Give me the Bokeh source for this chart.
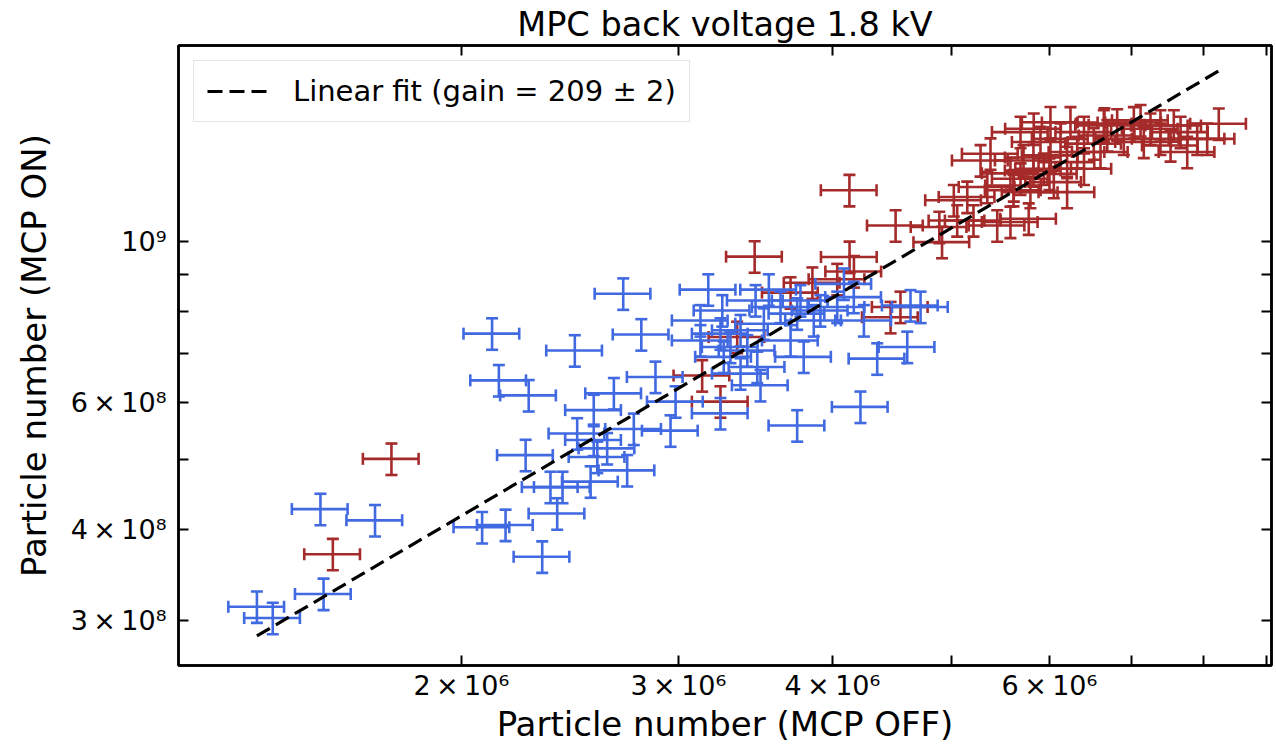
from bokeh.plotting import figure
from bokeh.models import (Range1d, FixedTicker, CustomJSTickFormatter, LogAxis,
                          Whisker, TeeHead, ColumnDataSource)
from bokeh.embed import file_html
from bokeh.resources import INLINE

# ---------------- data (x in units of 1e6, y in units of 1e8) ----------------
blue_x = [1.365, 1.406, 1.546, 1.537, 1.702,
          2.118, 2.706, 2.799, 2.472, 2.145, 2.268, 2.874, 2.659, 2.561, 2.984,
          2.760, 2.956, 2.483, 2.561, 2.626, 2.578, 2.255, 2.726, 2.546, 2.362,
          2.416, 2.392, 2.079, 2.172, 2.326,
          3.172, 3.552, 4.087, 3.256, 3.126, 3.465, 3.630, 3.745, 3.911, 4.036,
          4.163, 4.242, 3.863, 3.519, 3.369, 3.245, 3.126, 3.699, 3.306, 3.412,
          3.791, 3.265, 3.476, 3.369, 3.497, 3.245, 4.349, 4.600, 4.215, 3.745,
          4.628, 4.716, 3.768]
blue_y = [3.13, 3.02, 3.26, 4.27, 4.12,
          7.46, 8.47, 7.44, 7.07, 6.43, 6.13, 6.50, 6.17, 5.85, 6.01,
          5.51, 5.48, 5.43, 5.32, 5.18, 5.04, 5.07, 4.83, 4.66, 4.58,
          4.58, 4.21, 4.03, 4.06, 3.67,
          8.58, 8.58, 8.74, 8.03, 7.78, 8.29, 8.12, 7.95, 8.03, 8.12,
          8.38, 7.78, 7.78, 7.70, 7.54, 7.46, 7.30, 7.30, 7.15, 7.07,
          6.93, 6.93, 6.71, 6.57, 6.33, 5.79, 6.89, 7.15, 5.91, 5.57,
          8.16, 8.12, 8.29]

red_x = [1.573, 1.755, 3.136, 3.245, 3.348, 3.459, 4.130, 4.129, 4.501, 4.909,
         3.853, 4.164, 4.542, 4.459, 3.699, 4.036,
         5.275, 5.146, 5.050, 5.442, 5.772, 5.206, 5.018, 5.342, 5.610, 5.823,
         5.578, 5.823, 5.374,
         8.232, 7.761, 7.665, 8.056, 7.156, 7.382, 7.523, 7.024, 6.809, 6.641, 7.113,
         6.011, 5.826, 6.240, 6.400, 6.125, 5.900, 5.684, 6.518, 6.319, 6.011,
         6.600, 6.201, 6.400, 5.937, 5.684, 6.049, 6.201, 5.790, 5.613, 5.578,
         7.382, 6.894, 6.684, 7.246, 7.907, 7.569, 6.000, 6.649, 5.716, 4.884]
red_y = [3.70, 5.01, 6.53, 6.01, 7.38, 9.53, 9.52, 11.77, 10.52, 9.98,
         8.77, 9.09, 8.12, 7.86, 8.50, 8.87,
         12.94, 11.52, 10.69, 10.52, 10.75, 10.69, 11.40, 11.89, 11.77, 12.53,
         12.42, 13.06, 13.22,
         14.54, 13.29, 14.16, 13.86, 13.72, 13.86, 13.57, 14.60, 14.50, 14.46, 14.70,
         14.61, 14.31, 14.60, 14.16, 13.86, 13.72, 14.16, 13.65, 13.29, 13.15,
         13.29, 12.87, 12.60, 12.60, 12.21, 12.08, 11.70, 11.70, 11.95, 10.64,
         14.46, 13.86, 14.01, 14.31, 13.86, 14.46, 12.40, 14.55, 12.94, 10.47]

x_unit = 1e6
y_unit = 1e8
rel_err_x = 0.052
rel_err_y = 0.050
gain = 209
gain_err = 2

x_tick_vals = [2e6, 3e6, 4e6, 6e6]
x_tick_labels = ["2\u2009\u00d7\u200910\u2076", "3\u2009\u00d7\u200910\u2076",
                 "4\u2009\u00d7\u200910\u2076", "6\u2009\u00d7\u200910\u2076"]
x_minor_vals = [5e6, 7e6, 8e6, 9e6]
y_tick_vals = [3e8, 4e8, 6e8, 1e9]
y_tick_labels = ["3\u2009\u00d7\u200910\u2078", "4\u2009\u00d7\u200910\u2078",
                 "6\u2009\u00d7\u200910\u2078", "10\u2079"]
y_minor_vals = [5e8, 7e8, 8e8, 9e8]

BLUE = "#4169E1"
RED = "#A52A2A"
FONT = "DejaVu Sans"
BAR_W = 2.6


def make_source(xs, ys):
    x = [v * x_unit for v in xs]
    y = [v * y_unit for v in ys]
    return ColumnDataSource(dict(
        x=x, y=y,
        xl=[v * (1 - rel_err_x) for v in x], xu=[v * (1 + rel_err_x) for v in x],
        yl=[v * (1 - rel_err_y) for v in y], yu=[v * (1 + rel_err_y) for v in y]))


def formatter(vals, labels):
    code = ("const v = %s; const l = %s;"
            "for (let i = 0; i < v.length; i++) {"
            "  if (Math.abs(tick / v[i] - 1) < 1e-6) { return l[i]; } }"
            "return '';") % (repr(vals), repr(labels))
    return CustomJSTickFormatter(code=code)


p = figure(width=1276, height=746, x_axis_type="log", y_axis_type="log",
           x_range=Range1d(1.179e6, 9.084e6), y_range=Range1d(2.597e8, 1.865e9),
           output_backend="svg", toolbar_location=None,
           min_border_left=178, min_border_right=5,
           min_border_top=45, min_border_bottom=81,
           background_fill_color="white", border_fill_color="white",
           outline_line_color="black", outline_line_width=2.5)

p.title.text = "MPC back voltage 1.8 kV"
p.title.align = "center"
p.title.offset = 12
p.title.text_font = FONT
p.title.text_font_size = "33.5px"
p.title.text_font_style = "normal"
p.title.text_color = "black"
p.title.standoff = 4

p.xgrid.visible = False
p.ygrid.visible = False

# error bars: red first, blue on top
for xs, ys, col in ((red_x, red_y, RED), (blue_x, blue_y, BLUE)):
    src = make_source(xs, ys)
    for base, lo, up, dim in (("x", "yl", "yu", "height"), ("y", "xl", "xu", "width")):
        w = Whisker(source=src, base=base, lower=lo, upper=up, dimension=dim,
                    line_color=col, line_width=BAR_W,
                    lower_head=TeeHead(size=12, line_color=col, line_width=BAR_W),
                    upper_head=TeeHead(size=12, line_color=col, line_width=BAR_W))
        p.add_layout(w)

all_x = [v * x_unit for v in blue_x + red_x]
fit_x = [min(all_x), max(all_x)]
fit_y = [gain * v for v in fit_x]
p.line(fit_x, fit_y, line_color="black", line_width=3.2, line_dash="15 7",
       legend_label="Linear fit (gain = %d \u00b1 %d)" % (gain, gain_err))

# axes
xa = p.xaxis[0]
ya = p.yaxis[0]
xa.ticker = FixedTicker(ticks=x_tick_vals, minor_ticks=x_minor_vals)
ya.ticker = FixedTicker(ticks=y_tick_vals, minor_ticks=y_minor_vals)
xa.formatter = formatter(x_tick_vals, x_tick_labels)
ya.formatter = formatter(y_tick_vals, y_tick_labels)
xa.axis_label = "Particle number (MCP OFF)"
ya.axis_label = "Particle number (MCP ON)"

for ax in (xa, ya):
    ax.major_tick_in = 10
    ax.major_tick_out = 0
    ax.minor_tick_in = 10
    ax.minor_tick_out = 0
    ax.major_tick_line_width = 2
    ax.minor_tick_line_width = 2
    ax.axis_line_width = 2.5
    ax.major_label_text_font = FONT
    ax.major_label_text_font_size = "27px"
    ax.major_label_text_color = "black"
    ax.axis_label_text_font = FONT
    ax.axis_label_text_font_size = "34px"
    ax.axis_label_text_font_style = "normal"
    ax.axis_label_text_color = "black"
xa.major_label_standoff = 4
xa.axis_label_standoff = 0
ya.major_label_standoff = 12
ya.axis_label_standoff = 14

# mirrored ticks on top and right
for loc, tv, mv in (("above", x_tick_vals, x_minor_vals), ("right", y_tick_vals, y_minor_vals)):
    ax = LogAxis(ticker=FixedTicker(ticks=tv, minor_ticks=mv),
                 major_label_text_font_size="0px", major_label_standoff=0,
                 major_tick_in=10, major_tick_out=0, minor_tick_in=10, minor_tick_out=0,
                 major_tick_line_width=2, minor_tick_line_width=2, axis_line_width=2.5,
                 formatter=CustomJSTickFormatter(code="return '';"))
    p.add_layout(ax, loc)

lg = p.legend[0]
lg.location = "top_left"
lg.margin = 15
lg.padding = 13
lg.spacing = 0
lg.glyph_width = 62
lg.label_standoff = 24
lg.label_text_font = FONT
lg.label_text_font_size = "29px"
lg.label_text_color = "black"
lg.border_line_color = "#cccccc"
lg.border_line_width = 1.5
lg.background_fill_alpha = 0.8

open("out.html", "w").write(file_html(p, INLINE))
